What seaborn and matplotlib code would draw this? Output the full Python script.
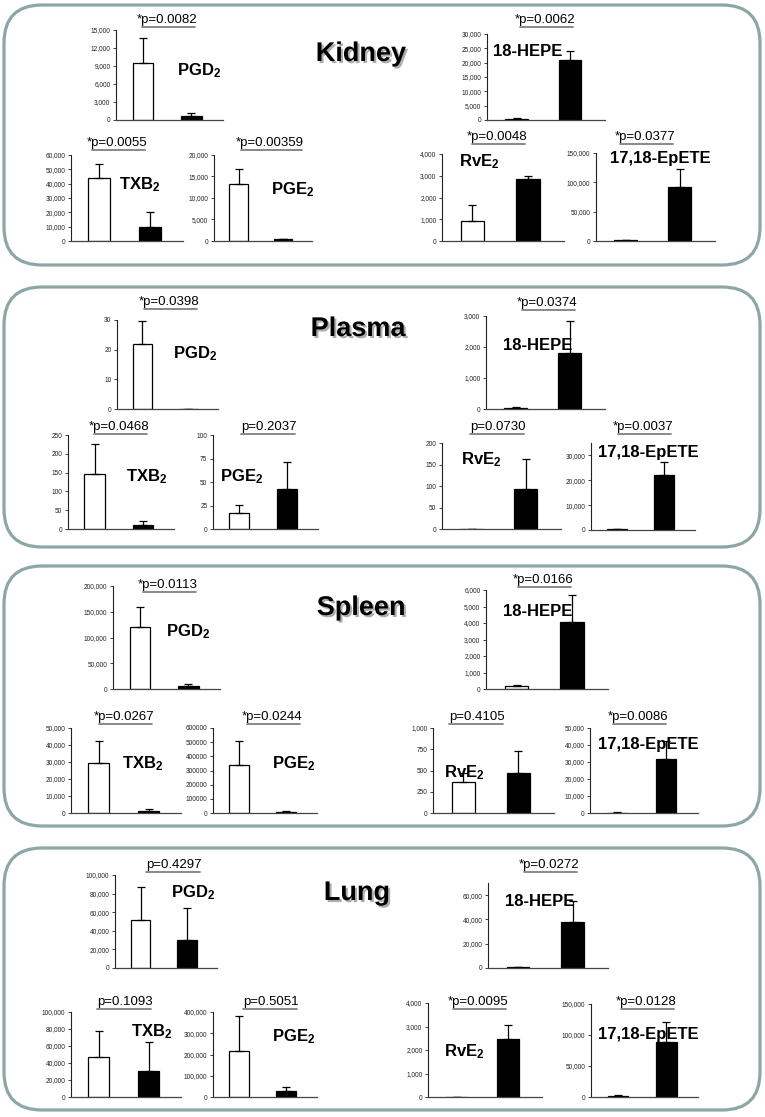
import matplotlib
matplotlib.use("Agg")
import numpy as np
import matplotlib.pyplot as plt
import matplotlib.patheffects as pe
from matplotlib.patches import FancyBboxPatch
from matplotlib.lines import Line2D
from matplotlib.ticker import FuncFormatter
import seaborn as sns

sns.set_style("white")
plt.rcParams['font.family'] = ['Liberation Sans', 'DejaVu Sans']
plt.rcParams['mathtext.fontset'] = 'custom'
plt.rcParams['mathtext.rm'] = 'Liberation Sans:bold'
plt.rcParams['mathtext.it'] = 'Liberation Sans:bold'
plt.rcParams['mathtext.bf'] = 'Liberation Sans:bold'

W, H = 765, 1117

# --- data -------------------------------------------------------------
groups = ["white", "black"]
analytes = ["PGD$_2$", "18-HEPE", "TXB$_2$", "PGE$_2$", "RvE$_2$", "17,18-EpETE"]
tissues = ["Kidney", "Plasma", "Spleen", "Lung"]

# means (white bar, black bar) per analyte
kidney_mean = [[9500, 750], [400, 21000], [44000, 10000], [13200, 400], [900, 2830], [1000, 92000]]
plasma_mean = [[22, 0], [40, 1820], [145, 11], [17, 43], [0, 93], [300, 22000]]
spleen_mean = [[120000, 6000], [180, 4050], [29500, 1300], [340000, 7000], [360, 475], [200, 32000]]
lung_mean = [[51500, 30500], [500, 37500], [47500, 31000], [216000, 30000], [0, 2470], [2000, 88000]]

# upper error (white bar, black bar)
kidney_err = [[4100, 400], [200, 3000], [9500, 10200], [3500, 150], [750, 150], [1000, 31000]]
plasma_err = [[7.5, 0], [40, 1010], [80, 9], [9, 28], [0, 70], [200, 5300]]
spleen_err = [[40000, 4000], [40, 1630], [13000, 1000], [165000, 5000], [105, 255], [100, 10500]]
lung_err = [[36000, 34000], [500, 18000], [30000, 33500], [164000, 16000], [0, 600], [1000, 33000]]

kidney_p = ["*p=0.0082", "*p=0.0062", "*p=0.0055", "*p=0.00359", "*p=0.0048", "*p=0.0377"]
plasma_p = ["*p=0.0398", "*p=0.0374", "*p=0.0468", "p=0.2037", "p=0.0730", "*p=0.0037"]
spleen_p = ["*p=0.0113", "*p=0.0166", "*p=0.0267", "*p=0.0244", "p=0.4105", "*p=0.0086"]
lung_p = ["p=0.4297", "*p=0.0272", "p=0.1093", "p=0.5051", "*p=0.0095", "*p=0.0128"]

kidney_ymax = [15000, 30000, 60000, 20000, 4000, 150000]
plasma_ymax = [30, 3000, 250, 100, 200, 35000]
spleen_ymax = [200000, 6000, 50000, 600000, 1000, 50000]
lung_ymax = [100000, 70000, 100000, 400000, 4000, 150000]

kidney_ystep = [3000, 5000, 10000, 5000, 1000, 50000]
plasma_ystep = [10, 1000, 50, 25, 50, 10000]
spleen_ystep = [50000, 1000, 10000, 100000, 250, 10000]
lung_ystep = [20000, 20000, 20000, 100000, 1000, 50000]

spleen_comma = [True, True, True, False, True, True]

means = dict(zip(tissues, [kidney_mean, plasma_mean, spleen_mean, lung_mean]))
errs = dict(zip(tissues, [kidney_err, plasma_err, spleen_err, lung_err]))
pvals = dict(zip(tissues, [kidney_p, plasma_p, spleen_p, lung_p]))
ymaxs = dict(zip(tissues, [kidney_ymax, plasma_ymax, spleen_ymax, lung_ymax]))
ysteps = dict(zip(tissues, [kidney_ystep, plasma_ystep, spleen_ystep, lung_ystep]))
commas = {t: [True] * 6 for t in tissues}
commas["Spleen"] = spleen_comma

# --- layout (pixels, top-left origin) ---------------------------------
# axes box: y-axis x, top y, x-axis end, zero y
boxes = {
    "Kidney": [(116, 30, 223, 120), (487, 34, 605, 120), (71, 155, 183, 241),
               (214, 155, 312, 241), (442, 154, 564, 241), (596, 153, 715, 241)],
    "Plasma": [(117, 320, 218, 409), (486, 316, 605, 409), (68, 435, 174, 529),
               (213, 435, 318, 529), (442, 443, 561, 529), (591, 443, 695, 530)],
    "Spleen": [(113, 586, 220, 689), (486, 590, 608, 689), (71, 728, 181, 813),
               (213, 728, 317, 813), (433, 728, 554, 813), (590, 728, 698, 813)],
    "Lung": [(115, 875, 217, 968), (488, 883, 608, 968), (71, 1012, 181, 1097),
             (213, 1012, 317, 1097), (428, 1003, 542, 1097), (591, 1004, 698, 1097)],
}
p_pos = {
    "Kidney": [(167, 20), (545, 20), (117, 143), (270, 143), (497, 137), (645, 137)],
    "Plasma": [(169, 302), (547, 303), (119, 427), (269, 427), (498, 427), (643, 427)],
    "Spleen": [(168, 585), (543, 580), (124, 717), (272, 717), (477, 717), (638, 717)],
    "Lung": [(174, 865), (549, 865), (125, 1002), (271, 1002), (478, 1002), (646, 1002)],
}
label_pos = {
    "Kidney": [(177, 71), (493, 52), (119, 185), (271, 190), (459, 162), (610, 158)],
    "Plasma": [(173, 354), (503, 345), (126, 477), (220, 477), (461, 460), (598, 453)],
    "Spleen": [(166, 632), (503, 612), (122, 764), (272, 764), (444, 773), (598, 745)],
    "Lung": [(171, 893), (505, 902), (131, 1032), (272, 1037), (444, 1052), (598, 1035)],
}
title_pos = {"Kidney": (361, 54), "Plasma": (358, 329), "Spleen": (361, 608), "Lung": (357, 893)}
frames = {"Kidney": (4, 5, 760, 265), "Plasma": (4, 287, 760, 547),
          "Spleen": (4, 566, 760, 826), "Lung": (4, 848, 760, 1110)}

fig = plt.figure(figsize=(W / 100, H / 100), dpi=100)
fig.patch.set_facecolor("white")

# pixel-space background axes for frames, titles and annotations
bg = fig.add_axes([0, 0, 1, 1], zorder=-5)
bg.set_xlim(0, W)
bg.set_ylim(H, 0)
bg.axis("off")

for t in tissues:
    x0, y0, x1, y1 = frames[t]
    bg.add_patch(FancyBboxPatch((x0, y0), x1 - x0, y1 - y0,
                                boxstyle="round,pad=0,rounding_size=38",
                                fc="none", ec="#8DA6A6", lw=2.3))

text_items = []
for t in tissues:
    for i, name in enumerate(analytes):
        ax_x, top, end_x, zero = boxes[t][i]
        ax = fig.add_axes([ax_x / W, 1 - zero / H, (end_x - ax_x) / W, (zero - top) / H])
        ax.patch.set_alpha(0)
        vals = means[t][i]
        sns.barplot(x=groups, y=vals, hue=groups, palette=["white", "black"],
                    edgecolor="black", linewidth=0.9, width=0.42, legend=False, ax=ax)
        ax.errorbar([0, 1], vals, yerr=[[0, 0], errs[t][i]], fmt="none",
                    ecolor="black", elinewidth=0.9, capsize=3, capthick=0.9)
        ax.set_xlim(-0.55, 1.65)
        ax.set_ylim(0, ymaxs[t][i])
        ax.set_yticks(np.arange(0, ymaxs[t][i] + 1, ysteps[t][i]))
        if commas[t][i]:
            ax.yaxis.set_major_formatter(FuncFormatter(lambda v, _: f"{int(v):,}"))
        else:
            ax.yaxis.set_major_formatter(FuncFormatter(lambda v, _: f"{int(v)}"))
        ax.set_xticks([])
        ax.set_xlabel("")
        ax.set_ylabel("")
        for s in ["top", "right"]:
            ax.spines[s].set_visible(False)
        ax.spines["left"].set_color("#222222")
        ax.spines["left"].set_linewidth(0.8)
        ax.spines["bottom"].set_color("#444444")
        ax.spines["bottom"].set_linewidth(0.9)
        ax.tick_params(axis="y", direction="out", length=2.5, width=0.6,
                       labelsize=4.7, pad=1.5, colors="#222222", left=True)

        lx, ly = label_pos[t][i]
        fig.text(lx, ly, name, transform=bg.transData, ha="left", va="center",
                 fontsize=12, fontweight="bold", color="black")
        px, py = p_pos[t][i]
        pt = fig.text(px, py, pvals[t][i], transform=bg.transData, ha="center",
                      va="center", fontsize=9.5, color="black")
        text_items.append((pt, py))

    tx, ty = title_pos[t]
    fig.text(tx, ty, t, transform=bg.transData, ha="center", va="center",
             fontsize=19.5, fontweight="bold", color="black",
             path_effects=[pe.withSimplePatchShadow(offset=(1.5, -1.5),
                                                    shadow_rgbFace="#777777", alpha=0.6)])

# underline the p-values
renderer = fig.canvas.get_renderer()
for pt, py in text_items:
    bb = pt.get_window_extent(renderer=renderer)
    start = bb.x0 + (5 if pt.get_text().startswith("*") else 0)
    fig.add_artist(Line2D([start, bb.x1 - 2], [py + 7, py + 7], transform=bg.transData,
                          color="#808080", lw=1.3))

fig.savefig("out.png", dpi=100, facecolor="white")
